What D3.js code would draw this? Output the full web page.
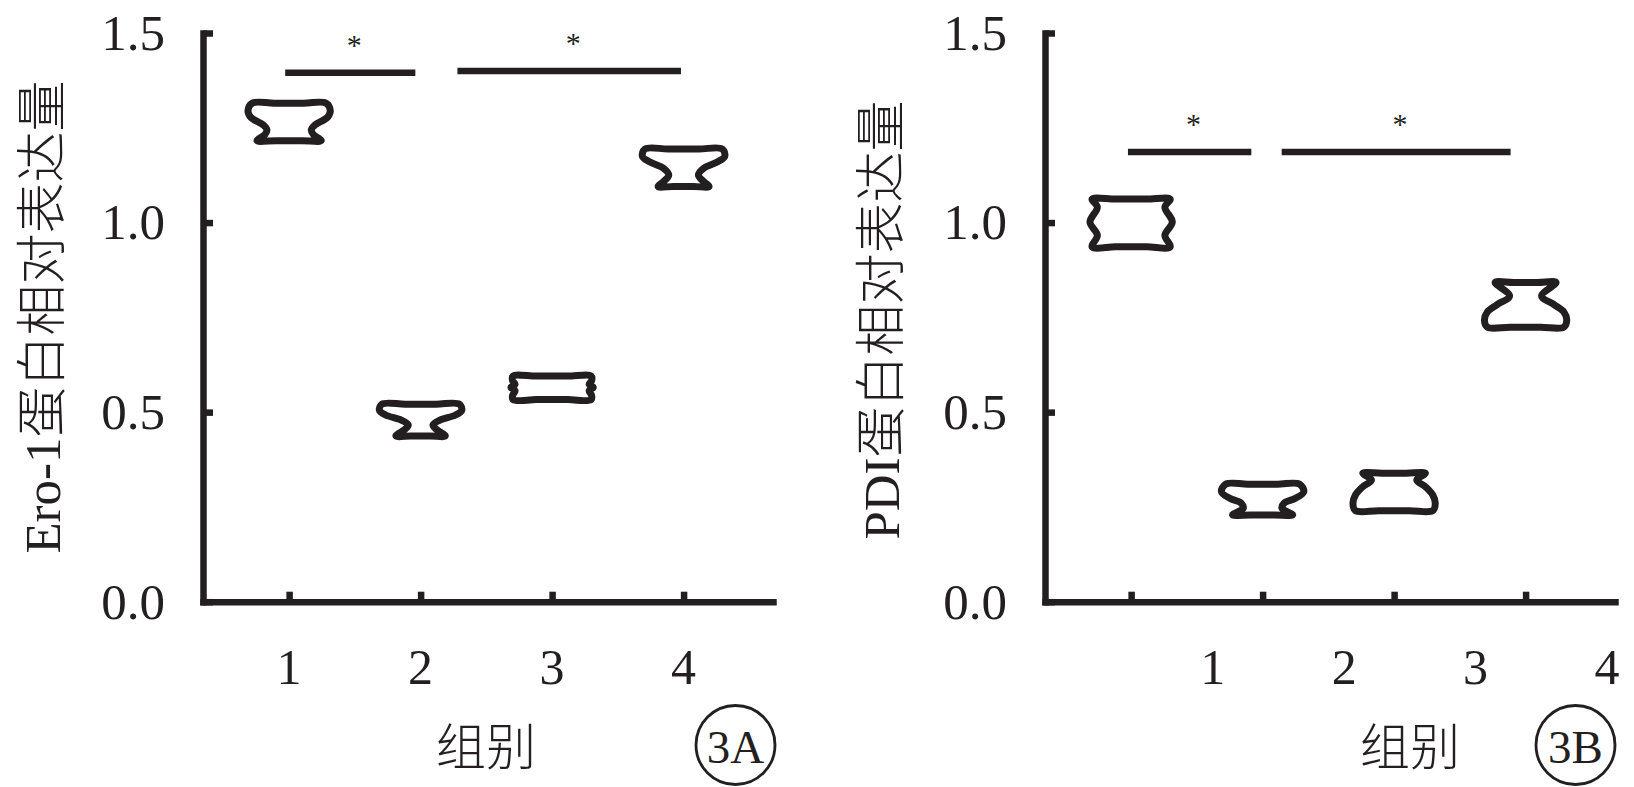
<!DOCTYPE html>
<html><head><meta charset="utf-8">
<script src="https://cdn.jsdelivr.net/npm/d3@7"></script>
<style>body{margin:0;background:#fff} svg{display:block}</style>
</head><body>
<svg id="chart" width="1634" height="787"></svg>
<script>
// ---------- data ----------
const groups = [1, 2, 3, 4];
const xTickLabels = ["1", "2", "3", "4"];
const yTicks = [0, 0.5, 1.0, 1.5];
const xTitle = "组别";
const eroTitle = "Ero-1蛋白相对表达量";
const pdiTitle = "PDI蛋白相对表达量";
const eroBadge = "3A";
const pdiBadge = "3B";

// top / bottom value of each group's box
const eroTop = [1.315, 0.521, 0.595, 1.194];
const eroBottom = [1.216, 0.437, 0.533, 1.095];
const pdiTop = [1.062, 0.310, 0.339, 0.842];
const pdiBottom = [0.936, 0.229, 0.240, 0.724];

// outline profile of each box: relative depth (0 top .. 1 bottom) and relative half-width
const eroProfileT = [
  [0, 0.2, 0.38, 0.58, 0.71, 0.84, 1],
  [0, 0.19, 0.34, 0.5, 0.65, 0.79, 1],
  [0, 0.2, 0.35, 0.48, 0.62, 0.82, 1],
  [0, 0.2, 0.34, 0.51, 0.69, 0.87, 1]
];
const eroProfileW = [
  [0.9, 1.0, 0.93, 0.63, 0.54, 0.59, 0.78],
  [0.94, 1.0, 0.85, 0.47, 0.3, 0.38, 0.6],
  [0.95, 0.96, 0.9, 1.0, 0.9, 0.96, 0.95],
  [0.94, 1.0, 0.83, 0.49, 0.36, 0.49, 0.62]
];
const pdiProfileT = [
  [0, 0.17, 0.48, 0.76, 1],
  [0, 0.25, 0.46, 0.62, 0.78, 1],
  [0, 0.18, 0.36, 0.58, 0.8, 1],
  [0, 0.3, 0.5, 0.66, 0.84, 1]
];
const pdiProfileW = [
  [0.95, 0.82, 1.0, 0.82, 0.95],
  [0.9, 1.0, 0.8, 0.52, 0.47, 0.73],
  [0.76, 0.55, 0.76, 0.94, 1.0, 0.94],
  [0.74, 0.39, 0.7, 0.93, 1.0, 0.93]
];

// significance bars (group units) and their level
const eroSigFrom = [0.97, 2.28];
const eroSigTo = [1.96, 3.98];
const eroSigLevel = [1.395, 1.40];
const pdiSigFrom = [0.976, 2.145];
const pdiSigTo = [1.914, 3.886];
const pdiSigLevel = [1.186, 1.186];
const sigMark = "*";

// ---------- layout ----------
const INK = "#231f20";
const SERIF = "'Liberation Serif','Times New Roman','Noto Sans CJK SC',serif";
const svg = d3.select("#chart");
const plotW = 570, yBase = 601.7, yTopPx = 33;
const boxHalf = 0.313;

function drawPanel(cfg) {
  const g = svg.append("g").attr("transform", `translate(${cfg.x0},0)`);
  const x = d3.scaleLinear().domain([0.345, 4.68]).range([0, plotW]);
  const y = d3.scaleLinear().domain([0, 1.5]).range([yBase, yTopPx]);

  // y axis
  const ya = g.append("g").call(d3.axisLeft(y).tickValues(yTicks)
      .tickFormat(d3.format(".1f")).tickSize(-10).tickSizeOuter(0).tickPadding(38));
  ya.select(".domain").attr("stroke", INK).attr("stroke-width", 6.5).attr("stroke-linecap", "square");
  ya.selectAll(".tick line").attr("stroke", INK).attr("stroke-width", 6.5);
  ya.selectAll(".tick text").attr("fill", INK).style("font-family", SERIF).style("font-size", "51px");

  // x axis
  const xa = g.append("g").attr("transform", `translate(0,${yBase})`)
    .call(d3.axisBottom(x).tickValues(groups).tickSize(-10).tickSizeOuter(0).tickFormat(""));
  xa.select(".domain").attr("stroke", INK).attr("stroke-width", 6.5).attr("stroke-linecap", "square");
  xa.selectAll(".tick line").attr("stroke", INK).attr("stroke-width", 6.5);

  // x tick labels
  g.selectAll("text.xl").data(groups).join("text").attr("class", "xl")
    .attr("x", d => x(d + cfg.labelShift)).attr("y", 667)
    .attr("text-anchor", "middle").attr("dominant-baseline", "central")
    .attr("fill", INK).style("font-family", SERIF).style("font-size", "50px")
    .text((d, i) => xTickLabels[i]);

  // boxes
  const pxPerGroup = x(2) - x(1);
  const hw = boxHalf * pxPerGroup;
  const line = d3.line().curve(d3.curveCatmullRomClosed.alpha(0.5));
  groups.forEach((gr, i) => {
    const cx = x(gr);
    const yt = y(cfg.top[i]), yb = y(cfg.bottom[i]);
    const T = cfg.pt[i], W = cfg.pw[i];
    const yy = t => yt + t * (yb - yt);
    const pts = [];
    for (let k = 0; k < T.length; k++) pts.push([cx - hw * W[k], yy(T[k])]);
    const wl = W[W.length - 1];
    pts.push([cx - 0.4 * hw * wl, yb], [cx + 0.4 * hw * wl, yb]);
    for (let k = T.length - 1; k >= 0; k--) pts.push([cx + hw * W[k], yy(T[k])]);
    pts.push([cx + 0.4 * hw * W[0], yt], [cx - 0.4 * hw * W[0], yt]);
    g.append("path").attr("d", line(pts)).attr("fill", "none")
      .attr("stroke", INK).attr("stroke-width", 7).attr("stroke-linejoin", "round");
  });

  // significance bars + marks
  cfg.sigFrom.forEach((f, i) => {
    const t = cfg.sigTo[i], lv = y(cfg.sigLevel[i]);
    g.append("line").attr("x1", x(f)).attr("x2", x(t)).attr("y1", lv).attr("y2", lv)
      .attr("stroke", INK).attr("stroke-width", 6.5);
    g.append("text").attr("x", x((f + t) / 2 + 0.03)).attr("y", lv - 18)
      .attr("text-anchor", "middle").attr("fill", INK)
      .style("font-family", SERIF).style("font-size", "30px").text(sigMark);
  });

  // y title
  svg.append("text").attr("transform", `translate(${cfg.titleX},${cfg.titleY}) rotate(-90)`)
    .attr("text-anchor", "middle").attr("dominant-baseline", "central")
    .attr("fill", INK).style("font-family", SERIF).style("font-size", "51px").style("font-weight", 300)
    .text(cfg.title);

  // x title
  svg.append("text").attr("x", cfg.xTitleX).attr("y", 748)
    .attr("text-anchor", "middle").attr("dominant-baseline", "central")
    .attr("fill", INK).style("font-family", SERIF).style("font-size", "50px").style("font-weight", 300)
    .text(xTitle);

  // badge
  svg.append("circle").attr("cx", cfg.badgeX).attr("cy", 745).attr("r", 39.5)
    .attr("fill", "none").attr("stroke", INK).attr("stroke-width", 2.8);
  svg.append("text").attr("x", cfg.badgeX).attr("y", 747)
    .attr("text-anchor", "middle").attr("dominant-baseline", "central")
    .attr("fill", INK).style("font-family", SERIF).style("font-size", "47px")
    .text(cfg.badge);
}

drawPanel({x0: 203, top: eroTop, bottom: eroBottom, pt: eroProfileT, pw: eroProfileW,
  sigFrom: eroSigFrom, sigTo: eroSigTo, sigLevel: eroSigLevel, labelShift: 0,
  title: eroTitle, titleX: 43, titleY: 317, xTitleX: 486, badgeX: 735.5, badge: eroBadge});
drawPanel({x0: 1045, top: pdiTop, bottom: pdiBottom, pt: pdiProfileT, pw: pdiProfileW,
  sigFrom: pdiSigFrom, sigTo: pdiSigTo, sigLevel: pdiSigLevel, labelShift: 0.62,
  title: pdiTitle, titleX: 882, titleY: 320, xTitleX: 1410, badgeX: 1575.5, badge: pdiBadge});
</script>
</body></html>
